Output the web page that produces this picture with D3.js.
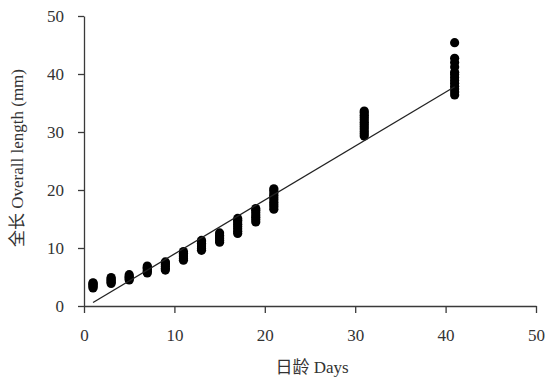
<!DOCTYPE html>
<html>
<head>
<meta charset="utf-8">
<script src="https://cdn.jsdelivr.net/npm/d3@7"></script>
<style>
  body { margin: 0; background: #fff; }
  .axis text { font-family: "Liberation Serif", "Times New Roman", serif; font-size: 17px; fill: #333; }
  .axis path, .axis line { stroke: #3a3a3a; stroke-width: 1.3; }
  .label { font-family: "Liberation Serif", "Noto Sans CJK SC", serif; font-size: 17px; fill: #333; }
</style>
</head>
<body>
<div id="chart"></div>
<script>
// sampling days and measured overall lengths (mm) at each day
const days = [1, 3, 5, 7, 9, 11, 13, 15, 17, 19, 21, 31, 41];
const lengths = [
  [3.1, 3.3, 3.5, 3.7, 3.9, 4.0],
  [3.9, 4.1, 4.3, 4.5, 4.7, 4.9],
  [4.5, 4.7, 4.9, 5.1, 5.4],
  [5.7, 6.0, 6.2, 6.5, 6.7, 6.9],
  [6.2, 6.5, 6.8, 7.1, 7.4, 7.6],
  [7.9, 8.2, 8.5, 8.8, 9.1, 9.4],
  [9.6, 9.9, 10.2, 10.5, 10.8, 11.1, 11.3],
  [11.0, 11.3, 11.6, 11.9, 12.2, 12.6],
  [12.5, 12.9, 13.3, 13.7, 14.1, 14.5, 14.8, 15.1],
  [14.5, 14.9, 15.3, 15.7, 16.1, 16.5, 16.8],
  [16.7, 17.1, 17.5, 17.9, 18.3, 18.7, 19.1, 19.5, 19.9, 20.2],
  [29.3, 29.7, 30.1, 30.5, 30.9, 31.3, 31.7, 32.1, 32.5, 32.9, 33.3, 33.6],
  [36.4, 36.9, 37.4, 37.9, 38.4, 38.9, 39.4, 39.9, 40.3, 41.2, 42.0, 42.7, 45.4]
];
// fitted line endpoints
const fitDays = [1, 41];
const fitLengths = [0.6, 37.8];

const xTicks = [0, 10, 20, 30, 40, 50];
const yTicks = [0, 10, 20, 30, 40, 50];

const totalWidth = 548, totalHeight = 378;
const margin = { left: 84, right: 12, top: 16, bottom: 72 };
const width = totalWidth - margin.left - margin.right;
const height = totalHeight - margin.top - margin.bottom;

const svg = d3.select('#chart').append('svg')
  .attr('width', totalWidth)
  .attr('height', totalHeight);

const g = svg.append('g')
  .attr('transform', 'translate(' + margin.left + ',' + margin.top + ')');

const x = d3.scaleLinear().domain([0, 50]).range([0, width]);
const y = d3.scaleLinear().domain([0, 50]).range([height, 0]);

const points = [];
days.forEach((d, i) => lengths[i].forEach(v => points.push({ day: d, value: v })));

g.append('g')
  .attr('class', 'axis')
  .attr('transform', 'translate(0,' + height + ')')
  .call(d3.axisBottom(x).tickValues(xTicks).tickSize(7).tickPadding(16).tickSizeOuter(0));

g.append('g')
  .attr('class', 'axis')
  .call(d3.axisLeft(y).tickValues(yTicks).tickSize(6).tickPadding(14).tickSizeOuter(0))
  .call(a => a.selectAll('.tick text').attr('dy', '0.34em'));

g.selectAll('circle')
  .data(points)
  .enter()
  .append('circle')
  .attr('r', 4.6)
  .attr('fill', '#000')
  .attr('cx', d => x(d.day))
  .attr('cy', d => y(d.value));

const line = d3.line()
  .x(d => x(d[0]))
  .y(d => y(d[1]));

g.append('path')
  .datum(fitDays.map((d, i) => [d, fitLengths[i]]))
  .attr('fill', 'none')
  .attr('stroke', '#222')
  .attr('stroke-width', 1.3)
  .attr('d', line);

svg.append('text')
  .attr('class', 'label')
  .attr('text-anchor', 'middle')
  .attr('x', 312)
  .attr('y', 373)
  .text('日龄 Days');

svg.append('text')
  .attr('class', 'label')
  .attr('text-anchor', 'middle')
  .attr('transform', 'translate(23,' + 158 + ') rotate(-90)')
  .text('全长 Overall length (mm)');
</script>
</body>
</html>
